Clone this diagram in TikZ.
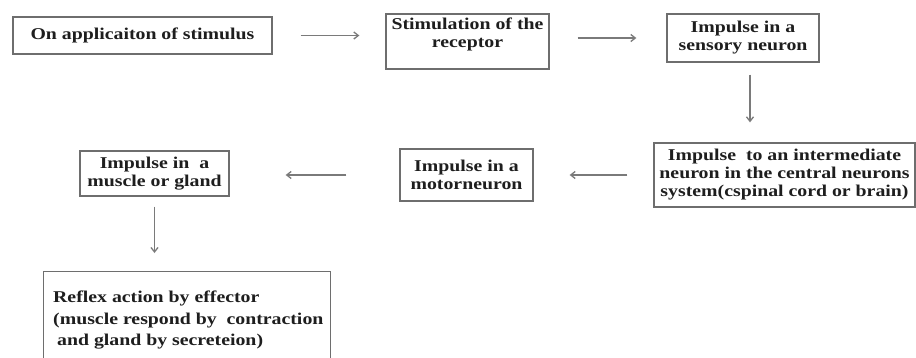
\documentclass[tikz,border=0pt]{standalone}
\usepackage{fontspec}
\setmainfont{Liberation Serif}[FakeStretch=1.2]
\usetikzlibrary{arrows.meta}
\definecolor{linec}{HTML}{6E6E6E}
\definecolor{arrc}{HTML}{7A7A7A}
\definecolor{txtc}{HTML}{1E1E1E}
\tikzset{
  box/.style={draw=linec, line width=1.3pt, text=txtc,
    font=\fontsize{16.5}{18}\selectfont\bfseries, align=center, inner sep=0pt},
  txt/.style={text=txtc, font=\fontsize{16.5}{21.5}\selectfont\bfseries, align=left, inner sep=0pt},
  arr/.style={draw=arrc, line width=1.3pt, -{Straight Barb[length=4.5pt,width=7pt]}},
}
\begin{document}
\begin{tikzpicture}[x=1pt,y=-1pt]
\useasboundingbox (0,0) rectangle (916,357);
\fill[white] (0,0) rectangle (916,357);
\clip (0,0) rectangle (916,357);

\node[box, minimum width=259pt, minimum height=37pt] (b1) at (142.5,35.5) {On applicaiton of stimulus};
\node[box, minimum width=163pt, minimum height=55pt] (b2) at (467.5,41.5)
  {\parbox[t][48pt][t]{155pt}{\centering Stimulation of the\\ receptor}};
\node[box, minimum width=152pt, minimum height=48pt] (b3) at (743,38) {Impulse in a\\sensory neuron};
\node[box, minimum width=261pt, minimum height=64pt] (b4) at (784.5,175)
  {Impulse \ to an intermediate\\neuron in the central neurons\\system(cspinal cord or brain)};
\node[box, minimum width=133pt, minimum height=52pt] (b5) at (466.5,175) {Impulse in a\\motorneuron};
\node[box, minimum width=149pt, minimum height=45pt] (b6) at (154.5,173.5) {Impulse in \ a\\muscle or gland};
\node[box, anchor=north west, minimum width=287pt, minimum height=110pt] (b7) at (43,271) {};
\node[txt, anchor=north west] (t7) at (53,291)
  {Reflex action by effector\\(muscle respond by \ contraction\\\hspace*{4pt}and gland by secreteion)};

\draw[arr, shorten <=28pt, shorten >=26pt] (b1.east) -- (b1.east -| b2.west);
\draw[arr, shorten <=28pt, shorten >=30pt] (b3.west -| b2.east) -- (b3.west);
\draw[arr, shorten <=12pt, shorten >=20pt] ([xshift=7pt]b3.south) -- ([xshift=7pt]b3.south |- b4.north);
\draw[arr, shorten <=26pt, shorten >=36pt] (b4.west) -- (b4.west -| b5.east);
\draw[arr, shorten <=53pt, shorten >=56pt] (b5.west) -- (b5.west -| b6.east);
\draw[arr, shorten <=10pt, shorten >=18pt] (b6.south) -- (b6.south |- b7.north);
\end{tikzpicture}
\end{document}
